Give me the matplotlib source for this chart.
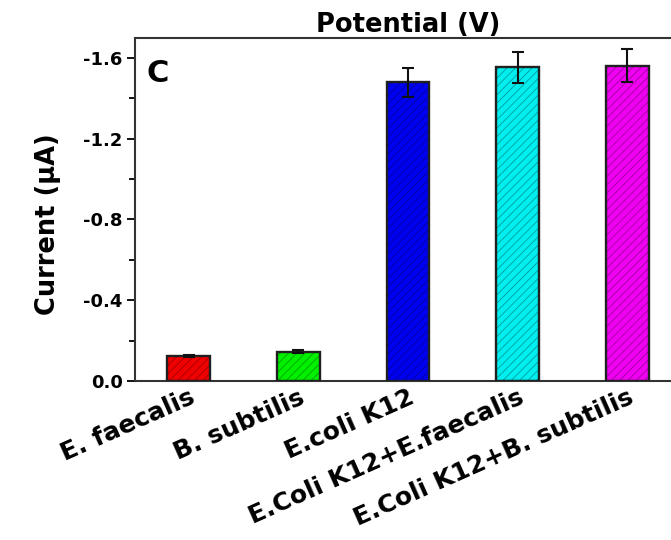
import matplotlib
matplotlib.use("Agg")
import matplotlib.pyplot as plt
import matplotlib.transforms as mtransforms
from matplotlib.ticker import MultipleLocator, FormatStrFormatter

# data
strains = ["E. faecalis", "B. subtilis", "E.coli K12",
           "E.Coli K12+E.faecalis", "E.Coli K12+B. subtilis"]
current = [-0.124, -0.145, -1.479, -1.553, -1.561]
err = [0.004, 0.007, 0.073, 0.077, 0.081]
colors = ["#f00000", "#00f000", "#0000f0", "#00eeee", "#f000f0"]
hatch_colors = ["#a00000", "#00a000", "#0000a0", "#009c9c", "#a000a0"]

plt.rcParams["font.family"] = "DejaVu Sans"
plt.rcParams["font.weight"] = "bold"
plt.rcParams["axes.unicode_minus"] = False
plt.rcParams["hatch.linewidth"] = 0.6

fig = plt.figure(figsize=(6.71, 5.4), dpi=100)
ax = fig.add_axes([0.2012, 0.2944, 0.8137, 0.6346])

x = list(range(len(strains)))
w = 0.39
# hatched fill, then outline
for i in x:
    ax.bar(i, current[i], w, color=colors[i], edgecolor=hatch_colors[i],
           hatch="////", linewidth=0, zorder=2)
ax.bar(x, current, w, fill=False, edgecolor="#202020", linewidth=1.7, zorder=3)
ax.errorbar(x, current, yerr=err, fmt="none", ecolor="#111111",
            elinewidth=1.5, capsize=4, capthick=1.5, zorder=4)

ax.set_xlim(-0.49, 4.49)
ax.set_ylim(0, -1.697)
ax.yaxis.set_major_locator(MultipleLocator(0.4))
ax.yaxis.set_minor_locator(MultipleLocator(0.2))
ax.yaxis.set_major_formatter(FormatStrFormatter("%.1f"))

ax.set_xticks(x)
ax.set_xticklabels(strains, rotation=24, ha="right", rotation_mode="anchor",
                   fontsize=18, fontweight="bold")
shift = mtransforms.ScaledTranslation(6 / 100, 0, fig.dpi_scale_trans)
for lab in ax.get_xticklabels():
    lab.set_transform(lab.get_transform() + shift)
ax.tick_params(axis="x", length=0, pad=3)
ax.tick_params(axis="y", which="major", direction="out", length=6, width=1.3,
               labelsize=13, pad=3)
ax.tick_params(axis="y", which="minor", direction="out", length=4, width=1.3)

for s in ["left", "bottom", "top"]:
    ax.spines[s].set_linewidth(1.5)
    ax.spines[s].set_color("#333333")
ax.spines["right"].set_visible(False)

ax.set_title("Potential (V)", fontsize=18.5, fontweight="bold", pad=3)
ax.set_ylabel("Current (\u03bcA)", fontsize=18.5, fontweight="bold")
ax.yaxis.set_label_coords(-0.135, 0.458)
ax.text(0.021, 0.896, "C", transform=ax.transAxes, fontsize=22,
        fontweight="bold", ha="left", va="center")

fig.savefig("out.png", dpi=100)
